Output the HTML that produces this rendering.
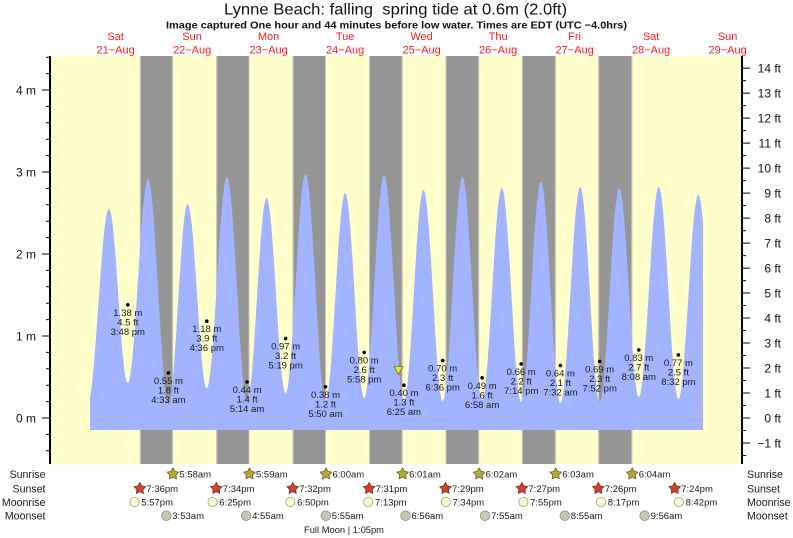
<!DOCTYPE html>
<html><head><meta charset="utf-8"><style>
html,body{margin:0;padding:0;background:#fff;}
svg{display:block;font-family:"Liberation Sans",Arial,sans-serif;}
</style></head><body>
<svg width="793" height="538" viewBox="0 0 793 538" xmlns="http://www.w3.org/2000/svg">
<rect width="793" height="538" fill="#fff"/>
<!-- titles -->
<text x="395.5" y="14.5" font-size="16" text-anchor="middle" textLength="343" lengthAdjust="spacingAndGlyphs" fill="#111">Lynne Beach: falling &#160;spring tide at 0.6m (2.0ft)</text>
<text x="396.5" y="28.3" font-size="10.2" font-weight="bold" text-anchor="middle" textLength="461" lengthAdjust="spacingAndGlyphs" fill="#111">Image captured One hour and 44 minutes before low water. Times are EDT (UTC −4.0hrs)</text>
<!-- day labels -->
<g font-size="11" fill="#ff1a1a" text-anchor="middle">
<text x="115.6" y="40">Sat</text><text x="115.6" y="53.5">21−Aug</text>
<text x="192.1" y="40">Sun</text><text x="192.1" y="53.5">22−Aug</text>
<text x="268.6" y="40">Mon</text><text x="268.6" y="53.5">23−Aug</text>
<text x="345.1" y="40">Tue</text><text x="345.1" y="53.5">24−Aug</text>
<text x="421.6" y="40">Wed</text><text x="421.6" y="53.5">25−Aug</text>
<text x="498.1" y="40">Thu</text><text x="498.1" y="53.5">26−Aug</text>
<text x="574.6" y="40">Fri</text><text x="574.6" y="53.5">27−Aug</text>
<text x="651.1" y="40">Sat</text><text x="651.1" y="53.5">28−Aug</text>
<text x="727.6" y="40">Sun</text><text x="727.6" y="53.5">29−Aug</text>
</g>
<!-- plot background -->
<rect x="51" y="56" width="690" height="408" fill="#ffffcc"/>
<!-- night bands -->
<g fill="#959595">
<rect x="139.9" y="56" width="33" height="408"/>
<rect x="216.3" y="56" width="33.2" height="408"/>
<rect x="292.7" y="56" width="33.3" height="408"/>
<rect x="369.1" y="56" width="33.5" height="408"/>
<rect x="445.5" y="56" width="33.6" height="408"/>
<rect x="521.9" y="56" width="33.8" height="408"/>
<rect x="598.3" y="56" width="33.9" height="408"/>
</g>
<g stroke="#c4c4c4" stroke-width="1">
<path d="M140.4,56V464M172.4,56V464M216.8,56V464M249,56V464M293.2,56V464M325.5,56V464M369.6,56V464M402.1,56V464M446,56V464M478.6,56V464M522.4,56V464M555.2,56V464M598.8,56V464M631.7,56V464"/>
</g>
<!-- tide fill -->
<defs><clipPath id="cp"><rect x="90" y="56" width="613" height="408"/></clipPath></defs>
<path clip-path="url(#cp)" fill="#a2b3ff" d="M87.5,430 L87.5,404
C95.33,404 101.17,209 109,209
C115.84,209 120.96,383 127.8,383
C135.19,383 140.71,179 148.1,179
C155.49,179 161.01,404 168.4,404
C175.39,404 180.61,204 187.6,204
C194.59,204 199.81,388 206.8,388
C214.15,388 219.65,177 227,177
C234.32,177 239.78,401 247.1,401
C254.2,401 259.5,198 266.6,198
C273.52,198 278.68,393 285.6,393
C292.88,393 298.32,174 305.6,174
C312.84,174 318.26,401 325.5,401
C332.67,401 338.03,193 345.2,193
C352.12,193 357.28,398 364.2,398
C371.44,398 376.86,175 384.1,175
C391.31,175 396.69,401 403.9,401
C411.03,401 416.37,190 423.5,190
C430.49,190 435.71,401 442.7,401
C449.91,401 455.29,177 462.5,177
C469.63,177 474.97,400 482.1,400
C489.27,400 494.63,188 501.8,188
C508.86,188 514.14,402 521.2,402
C528.41,402 533.79,182 541,182
C548.06,182 553.34,403 560.4,403
C567.61,403 572.99,187 580.2,187
C587.3,187 592.6,402 599.7,402
C606.83,402 612.17,188 619.3,188
C626.4,188 631.7,397 638.8,397
C646.08,397 651.52,187 658.8,187
C665.93,187 671.27,399 678.4,399
C685.64,399 691.06,195 698.3,195
C705.47,195 710.83,400 718,400
L718,430 Z"/>
<!-- axes -->
<g stroke="#000" fill="none">
<path stroke-width="2" d="M50,56V464M742,56V464"/>
<path stroke-width="1" d="M42,418h8M42,336h8M42,254h8M42,172h8M42,90h8
M46,450.8h4M46,434.4h4M46,401.6h4M46,385.2h4M46,368.8h4M46,352.4h4M46,319.6h4M46,303.2h4M46,286.8h4M46,270.4h4M46,237.6h4M46,221.2h4M46,204.8h4M46,188.4h4M46,155.6h4M46,139.2h4M46,122.8h4M46,106.4h4M46,73.6h4M46,57.2h4"/>
<path stroke-width="1" d="M742,443h8M742,418h8M742,393h8M742,368h8M742,343h8M742,318h8M742,293h8M742,268.1h8M742,243.1h8M742,218.1h8M742,193.1h8M742,168.1h8M742,143.1h8M742,118.1h8M742,93.1h8M742,68.1h8
M742,455.5h4M742,430.5h4M742,405.5h4M742,380.5h4M742,355.5h4M742,330.5h4M742,305.5h4M742,280.6h4M742,255.6h4M742,230.6h4M742,205.6h4M742,180.6h4M742,155.6h4M742,130.6h4M742,105.6h4M742,80.6h4"/>
</g>
<g font-size="12" fill="#111" text-anchor="end">
<text x="36" y="422.3">0 m</text><text x="36" y="340.3">1 m</text><text x="36" y="258.3">2 m</text><text x="36" y="176.3">3 m</text><text x="36" y="94.3">4 m</text>
<text x="781" y="447.3">−1 ft</text><text x="781" y="422.3">0 ft</text><text x="781" y="397.3">1 ft</text><text x="781" y="372.3">2 ft</text><text x="781" y="347.3">3 ft</text><text x="781" y="322.3">4 ft</text><text x="781" y="297.3">5 ft</text><text x="781" y="272.4">6 ft</text><text x="781" y="247.4">7 ft</text><text x="781" y="222.4">8 ft</text><text x="781" y="197.4">9 ft</text><text x="781" y="172.4">10 ft</text><text x="781" y="147.4">11 ft</text><text x="781" y="122.4">12 ft</text><text x="781" y="97.4">13 ft</text><text x="781" y="72.4">14 ft</text>
</g>
<!-- tide dots -->
<g fill="#000">
<circle cx="127.8" cy="304.8" r="1.8"/><circle cx="168.4" cy="372.9" r="1.8"/><circle cx="206.8" cy="321.2" r="1.8"/><circle cx="247.1" cy="381.9" r="1.8"/><circle cx="285.6" cy="338.5" r="1.8"/><circle cx="325.5" cy="386.8" r="1.8"/><circle cx="364.2" cy="352.4" r="1.8"/><circle cx="403.9" cy="385.2" r="1.8"/><circle cx="442.7" cy="360.6" r="1.8"/><circle cx="482.1" cy="377.8" r="1.8"/><circle cx="521.2" cy="363.9" r="1.8"/><circle cx="560.4" cy="365.5" r="1.8"/><circle cx="599.7" cy="361.4" r="1.8"/><circle cx="638.8" cy="349.9" r="1.8"/><circle cx="678.4" cy="354.9" r="1.8"/>
</g>
<g font-size="9.5" fill="#1a1a1a" text-anchor="middle">
<text x="127.8" y="315.8">1.38 m</text><text x="127.8" y="325.3">4.5 ft</text><text x="127.8" y="334.8">3:48 pm</text>
<text x="168.4" y="383.9">0.55 m</text><text x="168.4" y="393.4">1.8 ft</text><text x="168.4" y="402.9">4:33 am</text>
<text x="206.8" y="332.2">1.18 m</text><text x="206.8" y="341.7">3.9 ft</text><text x="206.8" y="351.2">4:36 pm</text>
<text x="247.1" y="392.9">0.44 m</text><text x="247.1" y="402.4">1.4 ft</text><text x="247.1" y="411.9">5:14 am</text>
<text x="285.6" y="349.5">0.97 m</text><text x="285.6" y="359">3.2 ft</text><text x="285.6" y="368.5">5:19 pm</text>
<text x="325.5" y="397.8">0.38 m</text><text x="325.5" y="407.3">1.2 ft</text><text x="325.5" y="416.8">5:50 am</text>
<text x="364.2" y="363.4">0.80 m</text><text x="364.2" y="372.9">2.6 ft</text><text x="364.2" y="382.4">5:58 pm</text>
<text x="403.9" y="396.2">0.40 m</text><text x="403.9" y="405.7">1.3 ft</text><text x="403.9" y="415.2">6:25 am</text>
<text x="442.7" y="371.6">0.70 m</text><text x="442.7" y="381.1">2.3 ft</text><text x="442.7" y="390.6">6:36 pm</text>
<text x="482.1" y="388.8">0.49 m</text><text x="482.1" y="398.3">1.6 ft</text><text x="482.1" y="407.8">6:58 am</text>
<text x="521.2" y="374.9">0.66 m</text><text x="521.2" y="384.4">2.2 ft</text><text x="521.2" y="393.9">7:14 pm</text>
<text x="560.4" y="376.5">0.64 m</text><text x="560.4" y="386">2.1 ft</text><text x="560.4" y="395.5">7:32 am</text>
<text x="599.7" y="372.4">0.69 m</text><text x="599.7" y="381.9">2.3 ft</text><text x="599.7" y="391.4">7:52 pm</text>
<text x="638.8" y="360.9">0.83 m</text><text x="638.8" y="370.4">2.7 ft</text><text x="638.8" y="379.9">8:08 am</text>
<text x="678.4" y="365.9">0.77 m</text><text x="678.4" y="375.4">2.5 ft</text><text x="678.4" y="384.9">8:32 pm</text>
</g>
<!-- current time marker -->
<polygon points="394,366.5 403,366.5 398.5,374.5" fill="#ece23c" stroke="#7d7015" stroke-width="0.8"/>
<!-- bottom row labels -->
<g font-size="10.6" fill="#1a1a1a">
<g text-anchor="end">
<text x="45.5" y="478">Sunrise</text><text x="45.5" y="492.4">Sunset</text><text x="45.5" y="506">Moonrise</text><text x="45.5" y="519.5">Moonset</text>
</g>
<text x="747" y="478">Sunrise</text><text x="747" y="492.4">Sunset</text><text x="747" y="506">Moonrise</text><text x="747" y="519.5">Moonset</text>
</g>
<!-- sunrise stars -->
<g fill="#b3ab34" stroke="#6e5c1e" stroke-width="0.8">
<path transform="translate(172.9,474)" d="M0,-6 L1.9,-2.6 L5.7,-1.85 L3.05,1 L3.53,4.85 L0,3.2 L-3.53,4.85 L-3.05,1 L-5.7,-1.85 L-1.9,-2.6 Z"/>
<path transform="translate(249.5,474)" d="M0,-6 L1.9,-2.6 L5.7,-1.85 L3.05,1 L3.53,4.85 L0,3.2 L-3.53,4.85 L-3.05,1 L-5.7,-1.85 L-1.9,-2.6 Z"/>
<path transform="translate(326,474)" d="M0,-6 L1.9,-2.6 L5.7,-1.85 L3.05,1 L3.53,4.85 L0,3.2 L-3.53,4.85 L-3.05,1 L-5.7,-1.85 L-1.9,-2.6 Z"/>
<path transform="translate(402.6,474)" d="M0,-6 L1.9,-2.6 L5.7,-1.85 L3.05,1 L3.53,4.85 L0,3.2 L-3.53,4.85 L-3.05,1 L-5.7,-1.85 L-1.9,-2.6 Z"/>
<path transform="translate(479.1,474)" d="M0,-6 L1.9,-2.6 L5.7,-1.85 L3.05,1 L3.53,4.85 L0,3.2 L-3.53,4.85 L-3.05,1 L-5.7,-1.85 L-1.9,-2.6 Z"/>
<path transform="translate(555.7,474)" d="M0,-6 L1.9,-2.6 L5.7,-1.85 L3.05,1 L3.53,4.85 L0,3.2 L-3.53,4.85 L-3.05,1 L-5.7,-1.85 L-1.9,-2.6 Z"/>
<path transform="translate(632.2,474)" d="M0,-6 L1.9,-2.6 L5.7,-1.85 L3.05,1 L3.53,4.85 L0,3.2 L-3.53,4.85 L-3.05,1 L-5.7,-1.85 L-1.9,-2.6 Z"/>
</g>
<!-- sunset stars -->
<g fill="#d2412f" stroke="#7a2a1a" stroke-width="0.8">
<path transform="translate(139.9,488.5)" d="M0,-6 L1.9,-2.6 L5.7,-1.85 L3.05,1 L3.53,4.85 L0,3.2 L-3.53,4.85 L-3.05,1 L-5.7,-1.85 L-1.9,-2.6 Z"/>
<path transform="translate(216.3,488.5)" d="M0,-6 L1.9,-2.6 L5.7,-1.85 L3.05,1 L3.53,4.85 L0,3.2 L-3.53,4.85 L-3.05,1 L-5.7,-1.85 L-1.9,-2.6 Z"/>
<path transform="translate(292.7,488.5)" d="M0,-6 L1.9,-2.6 L5.7,-1.85 L3.05,1 L3.53,4.85 L0,3.2 L-3.53,4.85 L-3.05,1 L-5.7,-1.85 L-1.9,-2.6 Z"/>
<path transform="translate(369.1,488.5)" d="M0,-6 L1.9,-2.6 L5.7,-1.85 L3.05,1 L3.53,4.85 L0,3.2 L-3.53,4.85 L-3.05,1 L-5.7,-1.85 L-1.9,-2.6 Z"/>
<path transform="translate(445.5,488.5)" d="M0,-6 L1.9,-2.6 L5.7,-1.85 L3.05,1 L3.53,4.85 L0,3.2 L-3.53,4.85 L-3.05,1 L-5.7,-1.85 L-1.9,-2.6 Z"/>
<path transform="translate(521.9,488.5)" d="M0,-6 L1.9,-2.6 L5.7,-1.85 L3.05,1 L3.53,4.85 L0,3.2 L-3.53,4.85 L-3.05,1 L-5.7,-1.85 L-1.9,-2.6 Z"/>
<path transform="translate(598.3,488.5)" d="M0,-6 L1.9,-2.6 L5.7,-1.85 L3.05,1 L3.53,4.85 L0,3.2 L-3.53,4.85 L-3.05,1 L-5.7,-1.85 L-1.9,-2.6 Z"/>
<path transform="translate(674.7,488.5)" d="M0,-6 L1.9,-2.6 L5.7,-1.85 L3.05,1 L3.53,4.85 L0,3.2 L-3.53,4.85 L-3.05,1 L-5.7,-1.85 L-1.9,-2.6 Z"/>
</g>
<!-- moonrise -->
<g fill="#ffffcc" stroke="#9a9a8a" stroke-width="0.8">
<circle cx="134.6" cy="502" r="4.6"/><circle cx="212.6" cy="502" r="4.6"/><circle cx="290.4" cy="502" r="4.6"/><circle cx="368.2" cy="502" r="4.6"/><circle cx="445.8" cy="502" r="4.6"/><circle cx="523.4" cy="502" r="4.6"/><circle cx="601" cy="502" r="4.6"/><circle cx="678.9" cy="502" r="4.6"/>
</g>
<!-- moonset -->
<g fill="#c8c8b2" stroke="#8f8f82" stroke-width="0.8">
<circle cx="166.3" cy="515.7" r="4.8"/><circle cx="246.1" cy="515.7" r="4.8"/><circle cx="325.8" cy="515.7" r="4.8"/><circle cx="405.5" cy="515.7" r="4.8"/><circle cx="485.1" cy="515.7" r="4.8"/><circle cx="564.8" cy="515.7" r="4.8"/><circle cx="644.6" cy="515.7" r="4.8"/>
</g>
<g font-size="9.5" fill="#1a1a1a">
<text x="179.4" y="477.4">5:58am</text><text x="256" y="477.4">5:59am</text><text x="332.5" y="477.4">6:00am</text><text x="409.1" y="477.4">6:01am</text><text x="485.6" y="477.4">6:02am</text><text x="562.2" y="477.4">6:03am</text><text x="638.7" y="477.4">6:04am</text>
<text x="146.4" y="491.9">7:36pm</text><text x="222.8" y="491.9">7:34pm</text><text x="299.2" y="491.9">7:32pm</text><text x="375.6" y="491.9">7:31pm</text><text x="452" y="491.9">7:29pm</text><text x="528.4" y="491.9">7:27pm</text><text x="604.8" y="491.9">7:26pm</text><text x="681.2" y="491.9">7:24pm</text>
<text x="141.3" y="505.4">5:57pm</text><text x="219.3" y="505.4">6:25pm</text><text x="297.1" y="505.4">6:50pm</text><text x="374.9" y="505.4">7:13pm</text><text x="452.5" y="505.4">7:34pm</text><text x="530.1" y="505.4">7:55pm</text><text x="607.7" y="505.4">8:17pm</text><text x="685.6" y="505.4">8:42pm</text>
<text x="172.3" y="519.1">3:53am</text><text x="252.1" y="519.1">4:55am</text><text x="331.8" y="519.1">5:55am</text><text x="411.5" y="519.1">6:56am</text><text x="491.1" y="519.1">7:55am</text><text x="570.8" y="519.1">8:55am</text><text x="650.6" y="519.1">9:56am</text>
<text x="304" y="533" textLength="80" lengthAdjust="spacingAndGlyphs">Full Moon | 1:05pm</text>
</g>
</svg>
</body></html>
